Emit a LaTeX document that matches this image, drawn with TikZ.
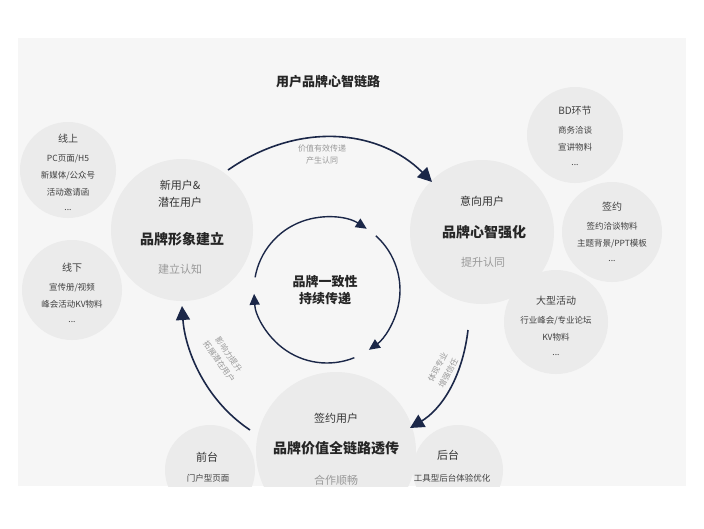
\documentclass[tikz,border=0pt]{standalone}
\usepackage{fontspec}
\setmainfont{Noto Sans CJK SC}
\usetikzlibrary{arrows.meta}
\definecolor{navy}{HTML}{1B2748}
\definecolor{bg}{HTML}{F6F6F6}
\definecolor{cir}{HTML}{EBEBEB}
\begin{document}
\begin{tikzpicture}[x=1pt,y=-1pt,
  bubble/.style={circle,fill=cir,inner sep=0pt},
  arr/.style={navy,line width=1.6pt,-{Triangle[length=14pt,width=14pt]}},
  inarr/.style={navy,line width=1.4pt,-{Triangle[length=11pt,width=10pt]}},
  sm/.style={font=\fontsize{8.5}{19}\selectfont,text=black!75,align=center},
  hd/.style={font=\fontsize{11}{17}\selectfont,text=black!80},
  big/.style={font=\bfseries\fontsize{14}{17}\selectfont,text=black!85},
  gr/.style={font=\fontsize{11}{13}\selectfont,text=black!40},
  lab/.style={font=\fontsize{8}{12}\selectfont,text=black!40,align=center}]
\useasboundingbox (0,0) rectangle (704,528);
\fill[white] (0,0) rectangle (704,528);
\fill[bg] (18,38) rectangle (686,486);
\begin{scope}
\clip (18,38) rectangle (686,486);
\node[bubble,minimum size=96pt] (on) at (68,170) {};
\node[bubble,minimum size=100pt] (off) at (72,290) {};
\node[bubble,minimum size=142pt] (L) at (182,230) {};
\node[bubble,minimum size=144pt] (R) at (482,232) {};
\node[bubble,minimum size=96pt] (bd) at (575,135) {};
\node[bubble,minimum size=100pt] (qy) at (612,232) {};
\node[bubble,minimum size=104pt] (dx) at (556,322) {};
\node[bubble,minimum size=90pt] (qt) at (210,470) {};
\node[bubble,minimum size=90pt] (ht) at (458,470) {};
\node[bubble,minimum size=160pt] (B) at (336,452) {};
\node[sm] at (68,172) {\fontsize{10}{19}\selectfont 线上\\PC页面/H5\\[-2pt]新媒体/公众号\\[-2pt]活动邀请函\\[-4pt]...};
\node[sm] at (72,293) {\fontsize{10}{19}\selectfont 线下\\宣传册/视频\\[-2pt]峰会活动KV物料\\[-4pt]...};
\node[sm] at (575,136) {\fontsize{10}{19}\selectfont BD环节\\商务洽谈\\[-2pt]宣讲物料\\[-4pt]...};
\node[sm] at (612,232) {\fontsize{10}{19}\selectfont 签约\\签约洽谈物料\\[-2pt]主题背景/PPT模板\\[-4pt]...};
\node[sm] at (556,326) {\fontsize{10}{19}\selectfont 大型活动\\行业峰会/专业论坛\\[-2pt]KV物料\\[-4pt]...};
\node[hd,align=center] at (180,194) {新用户\&\\潜在用户};
\node[big] at (182,239) {品牌形象建立};
\node[gr] at (180,269) {建立认知};
\node[hd] at (482,201) {意向用户};
\node[big] at (484,232) {品牌心智强化};
\node[gr] at (483,262) {提升认同};
\node[hd] at (336,418) {签约用户};
\node[big] at (336,448) {品牌价值全链路透传};
\node[gr] at (336,480) {合作顺畅};
\node[hd] at (207,457) {前台};
\node[sm] at (208,478) {门户型页面};
\node[hd] at (448,455) {后台};
\node[sm] at (452,478) {工具型后台体验优化};
\end{scope}
\node[font=\bfseries\fontsize{13}{15}\selectfont,text=black!85] (title) at (328,82) {用户品牌心智链路};
\node[font=\bfseries\fontsize{13}{17}\selectfont,text=black!85,align=center] (core) at (325,290) {品牌一致性\\持续传递};
\coordinate (c1) at (228,170);
\coordinate (c2) at (432,182);
\draw[arr] (c1) .. controls (300,120) and (380,130) .. (c2);
\coordinate (r1) at (468,330);
\coordinate (r2) at (410,428);
\draw[arr] (r1) .. controls (462,380) and (440,410) .. (r2);
\coordinate (l1) at (250,430);
\coordinate (l2) at (182,306);
\draw[arr] (l1) .. controls (205,400) and (185,350) .. (l2);
\node[lab] at (322,154) {价值有效传递\\产生认同};
\node[lab,rotate=62] at (443,370) {体现专业\\增强信任};
\node[lab,rotate=-55] at (224,358) {影响力提升\\拓展潜在用户};
\coordinate (cc) at (327,290);
\draw[inarr] (cc) ++(190:73) arc[start angle=190,end angle=303,radius=73];
\draw[inarr] (cc) ++(312:73) arc[start angle=312,end angle=415,radius=73];
\draw[inarr] (cc) ++(68:73) arc[start angle=68,end angle=177,radius=73];
\end{tikzpicture}
\end{document}
